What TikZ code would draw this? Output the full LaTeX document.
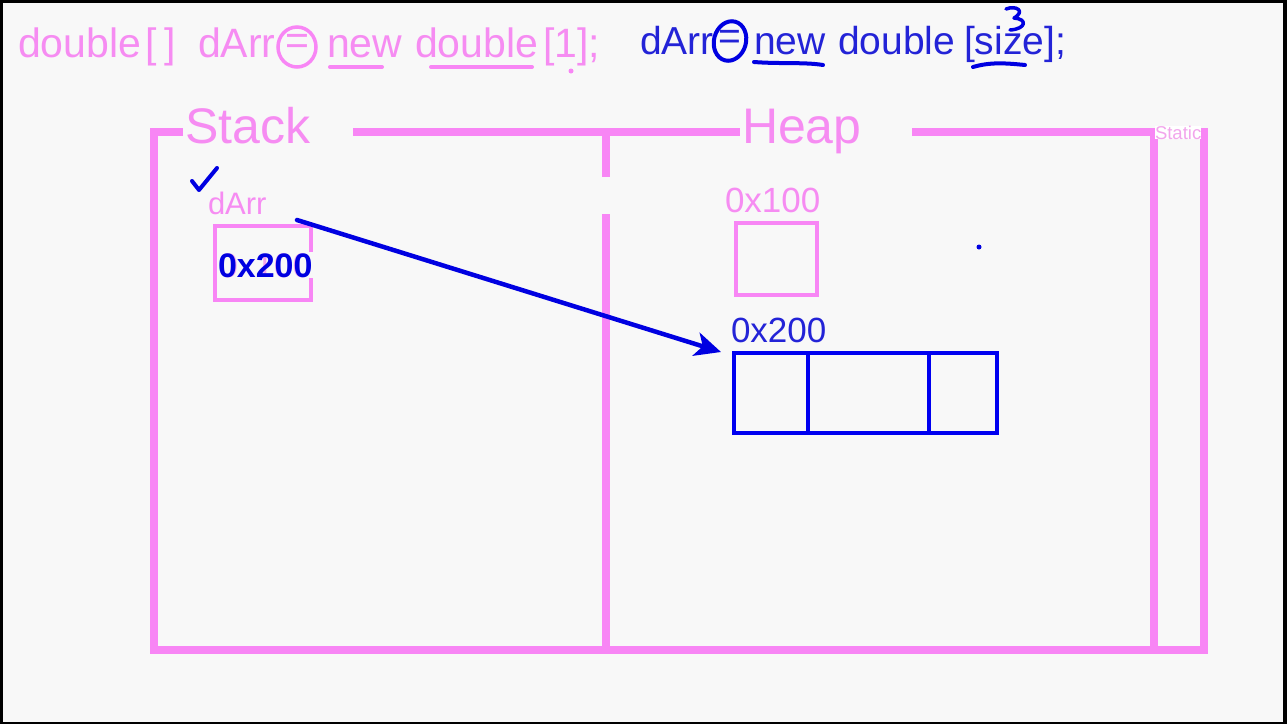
\documentclass[tikz,border=0pt]{standalone}
\usepackage{fontspec}
\setmainfont{Liberation Sans}
\usetikzlibrary{arrows.meta}
\definecolor{bgc}{RGB}{248,248,248}
\definecolor{pinkline}{RGB}{248,134,245}
\definecolor{pinktext}{RGB}{246,140,242}
\definecolor{pinkfaint}{RGB}{242,165,236}
\definecolor{bluetext}{RGB}{35,35,215}
\definecolor{bluepen}{RGB}{0,0,225}
\definecolor{bluebox}{RGB}{0,0,240}
\tikzset{
  txt/.style={anchor=base west, inner sep=0pt, outer sep=0pt},
  code/.style={txt, font=\fontsize{41}{41}\selectfont},
  codeb/.style={txt, font=\fontsize{39}{39}\selectfont},
  wall/.style={draw=pinkline, line width=8.5pt, line join=miter},
  pinkcell/.style={draw=pinkline, line width=4pt, inner sep=0pt, outer sep=0pt},
  bluecell/.style={draw=bluebox, line width=4pt, inner sep=0pt, outer sep=0pt},
  pen/.style={draw=bluepen, line width=4pt, line cap=round, line join=round},
  pinkpen/.style={draw=pinkline, line width=4pt, line cap=round, line join=round},
  title/.style={txt, pinktext, fill=bgc, font=\fontsize{50}{50}\selectfont},
}
\begin{document}
\begin{tikzpicture}[x=1pt,y=-1pt]
\useasboundingbox (0,0) rectangle (1287,724);
\fill[black] (0,0) rectangle (1287,724);
\fill[bgc] (3,3) rectangle (1283,722);

% ---- line 1 (pink) ----
\node[code, pinktext] (l1a) at (18,57) {double};
\node[code, pinktext] (l1b) at (145,57) {[\hspace{8pt}]};
\node[code, pinktext] (l1c) at (198,57) {dArr};
\node[code, pinktext, anchor=center] (l1eq) at (297,44) {=};
\draw[pinkline, line width=3.5pt] (297,47) ellipse (19 and 20);
\node[code, pinktext] (l1d) at (327,57) {new};
\node[code, pinktext] (l1e) at (415,57) {double};
\node[code, pinktext] (l1f) at (543,57) {[1];};
\draw[pinkpen] (330,67) -- (382,67);
\draw[pinkpen] (431,67) -- (532,67);
\fill[pinkline] (571,71) circle (2.5);

% ---- line 2 (blue) ----
\node[codeb, bluetext] (l2a) at (640,54) {dArr};
\node[codeb, bluetext, anchor=center] (l2eq) at (730,40) {=};
\draw[bluepen, line width=4pt, rotate around={-15:(730,41)}] (730,41) ellipse (16 and 20);
\node[codeb, bluetext] (l2b) at (754,54) {new};
\node[codeb, bluetext] (l2c) at (838,54) {double};
\node[codeb, bluetext] (l2d) at (964,54) {[size];};
\draw[pen] (754,62) .. controls (780,64) and (805,62) .. (823,65);
\draw[pen] (973,67) .. controls (990,62) and (1005,63) .. (1025,65);
\draw[pen, line width=3.5pt] (1006,9) .. controls (1016,5) and (1026,11) .. (1014,18)
  .. controls (1028,19) and (1026,29) .. (1010,30);

% ---- frames ----
\draw[wall] (183,132) -- (154,132) -- (154,650) -- (1204,650) -- (1204,128);
\draw[wall] (353,132) -- (740,132);
\draw[wall] (912,132) -- (1154,132) -- (1154,650);
\draw[wall] (606,136) -- (606,177);
\draw[wall] (606,214) -- (606,650);
\node[title] (stack) at (185,143) {Stack};
\node[title] (heap) at (742,143) {Heap};
\node[txt, fill=white, text=pinkfaint, font=\fontsize{18.5}{18.5}\selectfont] (static) at (1155,139) {Static};

% ---- stack contents ----
\draw[pen] (192,181) -- (199,190) -- (217,168);
\node[txt, pinktext, font=\fontsize{31}{31}\selectfont] (svar) at (208,214) {dArr};
\node[pinkcell, minimum width=96pt, minimum height=74pt] (sbox) at (263,263) {};
\node[txt, text=pinkfaint, fill=bgc, inner sep=1pt, font=\fontsize{34}{34}\selectfont] (sold) at (218,277) {0x100};
\node[txt, text=bluepen, font=\bfseries\fontsize{34}{34}\selectfont] (snew) at (218,277) {0x200};

% ---- heap contents ----
\node[txt, pinktext, font=\fontsize{35}{35}\selectfont] (h1lab) at (725,212) {0x100};
\node[pinkcell, minimum width=81pt, minimum height=72pt] (h1box) at (776.5,259) {};
\node[txt, bluetext, font=\fontsize{35}{35}\selectfont] (h2lab) at (731,342) {0x200};
\node[bluecell, minimum width=263pt, minimum height=80pt] (arr) at (865.5,393) {};
\draw[bluebox, line width=4pt] (808,353) -- (808,433);
\draw[bluebox, line width=4pt] (929,353) -- (929,433);
\fill[bluepen] (979,247) circle (2.5);

% ---- pointer arrow ----
\coordinate (src) at (297,220);
\coordinate (dst) at (721,352);
\draw[bluepen, line width=4.5pt, line cap=round, -{Stealth[length=26pt,width=24pt,inset=7pt]}] (src) -- (dst);
\end{tikzpicture}
\end{document}
